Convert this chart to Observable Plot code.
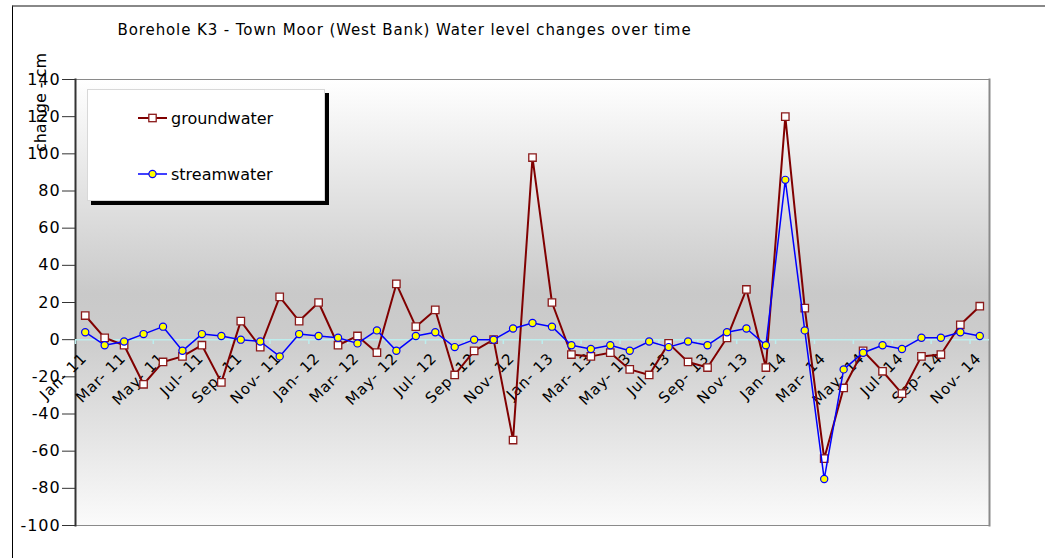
<!DOCTYPE html>
<html>
<head>
<meta charset="utf-8">
<script src="https://cdn.jsdelivr.net/npm/d3@7"></script>
<script src="https://cdn.jsdelivr.net/npm/@observablehq/plot@0.6"></script>
<style>
  body { margin: 0; background: #fff; font-family: "DejaVu Sans", Verdana, sans-serif; }
  #wrap { position: relative; width: 1045px; height: 558px; overflow: hidden; }
  #outer { position: absolute; left: 12px; top: 5px; width: 1100px; height: 600px;
           border-left: 1px solid #000; border-top: 2px solid #888; }
  #chart { position: absolute; left: 0; top: 0; }
  #legend { position: absolute; left: 87px; top: 89px; width: 238px; height: 112px; box-sizing: border-box;
            background: #fff; border: 1px solid #d8d8d8; box-shadow: 4px 4px 0 #000; }
  #legend svg { position: absolute; left: 0; top: 0; }
</style>
</head>
<body>
<div id="wrap">
  <div id="outer"></div>
  <div id="chart"></div>
  <div id="legend"></div>
</div>
<script>
const months = [
  "Jan- 11","Feb- 11","Mar- 11","Apr- 11","May- 11","Jun- 11","Jul- 11","Aug- 11","Sep- 11","Oct- 11","Nov- 11","Dec- 11",
  "Jan- 12","Feb- 12","Mar- 12","Apr- 12","May- 12","Jun- 12","Jul- 12","Aug- 12","Sep- 12","Oct- 12","Nov- 12","Dec- 12",
  "Jan- 13","Feb- 13","Mar- 13","Apr- 13","May- 13","Jun- 13","Jul- 13","Aug- 13","Sep- 13","Oct- 13","Nov- 13","Dec- 13",
  "Jan- 14","Feb- 14","Mar- 14","Apr- 14","May- 14","Jun- 14","Jul- 14","Aug- 14","Sep- 14","Oct- 14","Nov- 14"
];
const groundwater = [13,1,-3,-24,-12,-9,-3,-23,10,-4,23,10,20,-3,2,-7,30,7,16,-19,-6,0,-54,98,20,-8,-9,-7,-16,-19,-2,-12,-15,1,27,-15,120,17,-64,-26,-6,-17,-29,-9,-8,8,18];
const streamwater = [4,-3,-1,3,7,-6,3,2,0,-1,-9,3,2,1,-2,5,-6,2,4,-4,0,0,6,9,7,-3,-5,-3,-6,-1,-4,-1,-3,4,6,-3,86,5,-75,-16,-7,-3,-5,1,1,4,2];
const labelMonths = ["Jan- 11","Mar- 11","May- 11","Jul- 11","Sep- 11","Nov- 11",
  "Jan- 12","Mar- 12","May- 12","Jul- 12","Sep- 12","Nov- 12",
  "Jan- 13","Mar- 13","May- 13","Jul- 13","Sep- 13","Nov- 13",
  "Jan- 14","Mar- 14","May- 14","Jul- 14","Sep- 14","Nov- 14"];
const yTicks = [-100,-80,-60,-40,-20,0,20,40,60,80,100,120,140];
const title = "Borehole K3 - Town Moor (West Bank) Water level changes over time";
const yLabel = "change - cm";
const seriesNames = ["groundwater","streamwater"];

const data = months.map((m, i) => ({month: m, gw: groundwater[i], sw: streamwater[i]}));

const W = 1045, H = 558, ML = 75, MR = 56, MT = 79, MB = 33;
const step = (W - ML - MR) / months.length;
const FONT = "DejaVu Sans, Verdana, sans-serif";

const svg = Plot.plot({
  width: W, height: H,
  marginLeft: ML, marginRight: MR, marginTop: MT, marginBottom: MB,
  style: {fontFamily: FONT, background: "transparent", color: "#000", overflow: "visible"},
  x: {type: "band", domain: months, padding: 0, round: false, axis: null},
  y: {domain: [-100, 140], axis: null},
  marks: [
    Plot.frame({fill: "url(#bgGrad)"}),
    Plot.frame({stroke: "#8a8a8a", strokeWidth: 1}),
    Plot.frame({anchor: "right", stroke: "#8a8a8a", strokeWidth: 2}),
    Plot.frame({anchor: "left", stroke: "#333", strokeWidth: 2}),
    Plot.ruleY([0], {stroke: "#bdeeee", strokeWidth: 1.5}),
    Plot.ruleX(labelMonths, {x: d => d, y1: 0, y2: -2.6, dx: -step / 2, stroke: "#bdeeee", strokeWidth: 1.5}),
    Plot.axisY({ticks: yTicks, tickSize: 13, tickPadding: 2, fontSize: 16, label: null, stroke: "#333", tickFormat: d => String(d)}),
    Plot.text(labelMonths, {x: d => d, y: () => 0, text: d => d, rotate: -45, textAnchor: "end", lineAnchor: "middle", dx: -1, dy: 16, fontSize: 15, fill: "#000"}),
    Plot.line(data, {x: "month", y: "gw", stroke: "#800000", strokeWidth: 2}),
    Plot.dot(data, {x: "month", y: "gw", symbol: "square", r: 4.2, fill: "#fff", stroke: "#8b1a1a", strokeWidth: 1.3}),
    Plot.line(data, {x: "month", y: "sw", stroke: "#0000ff", strokeWidth: 1.5}),
    Plot.dot(data, {x: "month", y: "sw", r: 3.6, fill: "#ffff00", stroke: "#0000ff", strokeWidth: 1.2}),
    Plot.text([title], {frameAnchor: "top-left", dx: 117 - ML, dy: 30 - MT, textAnchor: "start", lineAnchor: "middle", fontSize: 15, fill: "#000"}),
    Plot.text([yLabel], {frameAnchor: "top-left", dx: 40 - ML, dy: 102 - MT, rotate: -90, textAnchor: "middle", lineAnchor: "middle", fontSize: 16, fill: "#000"})
  ]
});

// wider glyph spacing to mimic the original Verdana metrics
d3.select(svg).selectAll("text").each(function() {
  const t = this.textContent;
  if (t === title) this.setAttribute("letter-spacing", "0.9px");
  else if (labelMonths.includes(t)) this.setAttribute("letter-spacing", "0.9px");
  else if (yTicks.map(String).includes(t)) this.setAttribute("letter-spacing", "0.9px");
});

const defs = d3.select(svg).insert("defs", ":first-child");
const grad = defs.append("linearGradient").attr("id", "bgGrad").attr("x1", 0).attr("y1", 0).attr("x2", 0).attr("y2", 1);
[[0, "#ffffff"], [0.48, "#c9c9c9"], [0.58, "#cccccc"], [1, "#fbfbfb"]].forEach(([o, c]) =>
  grad.append("stop").attr("offset", o).attr("stop-color", c));

document.getElementById("chart").appendChild(svg);

// legend
const leg = d3.select("#legend").append("svg").attr("width", 238).attr("height", 112);
const items = [
  {name: seriesNames[0], y: 28, stroke: "#800000", fill: "#fff", sym: "square", mstroke: "#8b1a1a"},
  {name: seriesNames[1], y: 84, stroke: "#0000ff", fill: "#ffff00", sym: "circle", mstroke: "#0000ff"}
];
items.forEach(it => {
  const g = leg.append("g").attr("transform", `translate(0,${it.y})`);
  g.append("line").attr("x1", 50).attr("x2", 79).attr("y1", 0).attr("y2", 0).attr("stroke", it.stroke).attr("stroke-width", it.sym === "square" ? 2 : 1.5);
  if (it.sym === "square") g.append("rect").attr("x", 64.5 - 3.7).attr("y", -3.7).attr("width", 7.4).attr("height", 7.4).attr("fill", it.fill).attr("stroke", it.mstroke).attr("stroke-width", 1.3);
  else g.append("circle").attr("cx", 64.5).attr("cy", 0).attr("r", 3.6).attr("fill", it.fill).attr("stroke", it.mstroke).attr("stroke-width", 1.2);
  g.append("text").attr("x", 83).attr("y", 0).attr("dy", "0.35em").attr("font-size", 16).attr("font-family", FONT).text(it.name);
});
</script>
</body>
</html>
